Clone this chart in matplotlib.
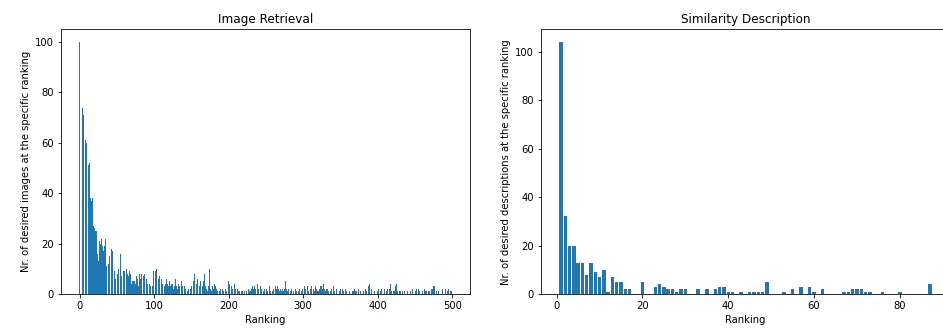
import numpy as np
import matplotlib
matplotlib.use("Agg")
import matplotlib.pyplot as plt

# counts per ranking position, image retrieval (ranks 0..499)
retrieval_counts = [
    100, 0, 72, 73, 74, 71, 58, 59, 61, 60, 61, 52, 51, 52, 37, 38, 37, 38, 37, 27,
    26, 25, 23, 25, 16, 13, 16, 21, 20, 22, 21, 19, 17, 19, 24, 22, 11, 8, 13, 12,
    15, 14, 15, 18, 17, 11, 8, 9, 6, 11, 10, 8, 10, 9, 17, 16, 7, 5, 10, 9,
    9, 6, 10, 10, 8, 10, 7, 9, 8, 7, 4, 5, 5, 3, 5, 4, 7, 5, 6, 3,
    8, 11, 6, 8, 5, 9, 7, 8, 5, 9, 6, 4, 10, 8, 4, 3, 4, 2, 3, 9,
    8, 10, 9, 10, 7, 8, 6, 7, 5, 7, 6, 4, 7, 5, 3, 4, 8, 6, 4, 3,
    2, 5, 3, 4, 3, 4, 2, 3, 4, 6, 3, 2, 5, 4, 3, 2, 4, 5, 3, 1,
    4, 3, 2, 4, 3, 1, 2, 6, 3, 2, 3, 1, 4, 5, 8, 6, 3, 4, 6, 3,
    2, 3, 5, 2, 4, 3, 5, 6, 8, 3, 2, 4, 1, 3, 10, 4, 2, 1, 3, 2,
    2, 4, 3, 6, 2, 1, 2, 1, 1, 2, 1, 0, 2, 1, 1, 0, 2, 1, 3, 2,
    5, 4, 2, 1, 3, 2, 4, 3, 4, 2, 3, 1, 2, 1, 2, 1, 0, 1, 0, 1,
    0, 1, 1, 0, 1, 0, 1, 2, 1, 1, 0, 2, 3, 2, 1, 3, 2, 1, 3, 4,
    2, 5, 6, 3, 2, 4, 3, 1, 2, 1, 3, 2, 1, 3, 2, 3, 1, 2, 3, 1,
    2, 1, 2, 3, 2, 1, 3, 2, 1, 0, 2, 1, 2, 3, 1, 2, 5, 3, 2, 1,
    2, 1, 0, 1, 2, 1, 0, 1, 2, 1, 2, 1, 2, 3, 1, 2, 1, 2, 1, 2,
    1, 2, 3, 2, 1, 2, 3, 1, 2, 1, 2, 3, 2, 1, 2, 1, 2, 3, 2, 1,
    2, 1, 2, 3, 2, 3, 2, 4, 3, 2, 1, 2, 3, 2, 1, 0, 2, 1, 2, 3,
    2, 3, 1, 2, 1, 2, 0, 1, 2, 1, 2, 0, 1, 2, 1, 0, 1, 2, 1, 0,
    1, 0, 1, 2, 1, 0, 1, 0, 1, 2, 1, 0, 1, 0, 2, 1, 0, 1, 0, 1,
    0, 1, 0, 1, 2, 1, 0, 2, 3, 4, 2, 1, 2, 0, 1, 2, 1, 0, 1, 2,
    1, 2, 3, 2, 1, 2, 3, 1, 0, 2, 1, 0, 1, 2, 0, 1, 2, 4, 3, 1,
    0, 1, 2, 1, 3, 4, 2, 1, 0, 1, 0, 1, 0, 1, 1, 0, 1, 2, 1, 0,
    1, 2, 1, 0, 1, 2, 1, 2, 0, 1, 2, 1, 2, 0, 1, 2, 1, 2, 1, 0,
    1, 2, 5, 2, 1, 2, 1, 0, 1, 2, 1, 0, 2, 1, 2, 3, 3, 1, 0, 1,
    0, 0, 1, 0, 0, 1, 0, 2, 1, 0, 0, 2, 1, 0, 1, 2, 1, 0, 1, 1,
]

# counts per ranking position, similarity description (ranks 1..87)
description_counts = [
    104, 32, 20, 20, 13, 13, 8, 13, 9, 7,
    10, 1, 7, 5, 5, 2, 2, 0, 0, 5,
    0, 0, 3, 4, 3, 2, 2, 1, 2, 2,
    0, 0, 2, 0, 2, 0, 2, 3, 3, 1,
    1, 0, 1, 0, 1, 1, 1, 1, 5, 0,
    0, 0, 1, 0, 2, 0, 3, 0, 3, 1,
    0, 2, 0, 0, 0, 0, 1, 1, 2, 2,
    2, 1, 1, 0, 0, 1, 0, 0, 0, 1,
    0, 0, 0, 0, 0, 0, 4,
]

W, H, DPI = 943, 334, 72
fig = plt.figure(figsize=(W / DPI, H / DPI), dpi=DPI)

bottom = 40 / H
height = 264.6 / H
ax1 = fig.add_axes([60.7 / W, bottom, 409.6 / W, height])
ax2 = fig.add_axes([540.6 / W, bottom, 409.6 / W, height])

ax1.bar(np.arange(len(retrieval_counts)), retrieval_counts)
ax1.set_title("Image Retrieval")
ax1.set_xlabel("Ranking")
ax1.set_ylabel("Nr. of desired images at the specific ranking")

ax2.bar(np.arange(1, len(description_counts) + 1), description_counts)
ax2.set_title("Similarity Description")
ax2.set_xlabel("Ranking")
ax2.set_ylabel("Nr. of desired descriptions at the specific ranking")

fig.savefig("out.png", dpi=DPI, facecolor="white")
